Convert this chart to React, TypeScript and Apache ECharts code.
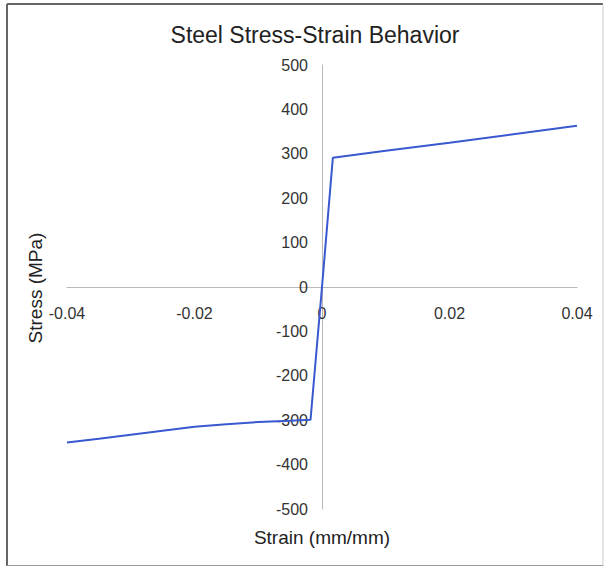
import React, { useEffect, useRef } from "react";
import * as echarts from "echarts";

const titleText = "Steel Stress-Strain Behavior";
const xAxisName = "Strain (mm/mm)";
const yAxisName = "Stress (MPa)";

const strain = [-0.04, -0.035, -0.03, -0.025, -0.02, -0.015, -0.01, -0.005, -0.0018, 0, 0.0017, 0.01, 0.02, 0.03, 0.04];
const stress = [-350, -342, -333, -324, -315, -309, -304, -301, -299, 0, 291, 307, 325, 344, 363];

const xMin = -0.04;
const xMax = 0.04;
const xInterval = 0.02;
const yMin = -500;
const yMax = 500;
const yInterval = 100;

const FONT = '"Liberation Sans", Arial, Helvetica, sans-serif';

const GRID = { left: 67, right: 28, top: 65, bottom: 58 };
const W = 605;
const H = 567;

export default function App() {
  const ref = useRef<HTMLDivElement>(null);
  useEffect(() => {
    if (!ref.current) return;
    const chart = echarts.init(ref.current, undefined, { renderer: "svg" });
    const data = strain.map((s, i) => [s, stress[i]]);
    const gridW = W - GRID.left - GRID.right;
    const gridH = H - GRID.top - GRID.bottom;
    // move axes (line + labels) to the zero crossing of the other axis
    const yOffset = -gridW * ((0 - xMin) / (xMax - xMin));
    const xOffset = -gridH * ((0 - yMin) / (yMax - yMin));
    chart.setOption({
      animation: false,
      backgroundColor: "#ffffff",
      textStyle: { fontFamily: FONT },
      title: {
        text: titleText,
        left: 310,
        top: 18,
        textAlign: "center",
        textStyle: { fontFamily: FONT, fontSize: 23, fontWeight: "normal", color: "#222" },
      },
      grid: { ...GRID, containLabel: false },
      xAxis: {
        type: "value",
        min: xMin,
        max: xMax,
        interval: xInterval,
        position: "bottom",
        offset: xOffset,
        axisLine: { onZero: false, lineStyle: { color: "#b8b8b8", width: 1 } },
        axisTick: { show: false },
        splitLine: { show: false },
        axisLabel: {
          margin: 18,
          fontSize: 16,
          color: "#333",
          fontFamily: FONT,
          formatter: (v: number) => {
            const r = Math.round(v * 100) / 100;
            return r === 0 ? "0" : r.toFixed(2);
          },
        },
      },
      yAxis: {
        type: "value",
        min: yMin,
        max: yMax,
        interval: yInterval,
        position: "left",
        offset: yOffset,
        axisLine: { show: true, onZero: false, lineStyle: { color: "#b8b8b8", width: 1 } },
        axisTick: { show: false },
        splitLine: { show: false },
        axisLabel: { margin: 14, fontSize: 16, color: "#333", fontFamily: FONT },
      },
      graphic: [
        {
          type: "text",
          x: 322,
          y: 537,
          style: { text: xAxisName, fontSize: 19, fill: "#222", fontFamily: FONT, align: "center", verticalAlign: "middle" },
        },
        {
          type: "text",
          x: 35,
          y: 288,
          rotation: Math.PI / 2,
          style: { text: yAxisName, fontSize: 19, fill: "#222", fontFamily: FONT, align: "center", verticalAlign: "middle" },
        },
        { type: "line", shape: { x1: 7, y1: 4, x2: 603, y2: 4 }, style: { stroke: "#666", lineWidth: 2 } },
        { type: "line", shape: { x1: 7, y1: 4, x2: 7, y2: 566 }, style: { stroke: "#666", lineWidth: 2 } },
        { type: "line", shape: { x1: 603, y1: 4, x2: 603, y2: 566 }, style: { stroke: "#ccc", lineWidth: 1 } },
        { type: "line", shape: { x1: 7, y1: 565.5, x2: 603, y2: 565.5 }, style: { stroke: "#999", lineWidth: 1 } },
      ],
      series: [
        {
          type: "line",
          data,
          showSymbol: false,
          symbol: "none",
          lineStyle: { color: "#3a58d0", width: 2 },
          z: 1,
        },
      ],
    });
    return () => chart.dispose();
  }, []);
  return (
    <div
      ref={ref}
      style={{ position: "fixed", left: 0, top: 0, width: W, height: H }}
    />
  );
}
